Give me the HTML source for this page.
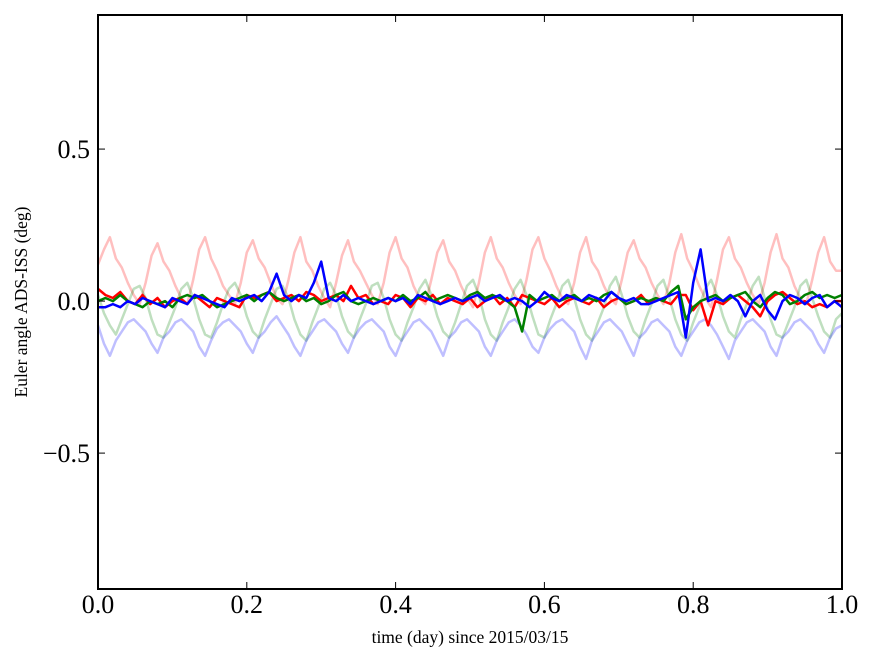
<!DOCTYPE html>
<html><head><meta charset="utf-8"><style>
html,body{margin:0;padding:0;background:#fff;}
svg{display:block;font-family:"Liberation Serif",serif;}
</style></head><body>
<svg id="chart" width="875" height="662" viewBox="0 0 875 662">
<rect x="0" y="0" width="875" height="662" fill="#fff"/>
<g id="plot"></g>
<g id="axes"></g>
<text x="470" y="643" text-anchor="middle" font-size="17.5">time (day) since 2015/03/15</text>
<text transform="translate(27,302) rotate(-90)" text-anchor="middle" font-size="17.5">Euler angle ADS-ISS (deg)</text>
</svg>
<script>
const xTicks=[0,0.2,0.4,0.6,0.8,1.0];
const xTickLabels=["0.0","0.2","0.4","0.6","0.8","1.0"];
const yTicks=[-0.5,0,0.5];
const yTickLabels=["\u22120.5","0.0","0.5"];
// faded series, step 0.008 day
const fadedRed=[0.12,0.17,0.21,0.14,0.11,0.06,0.02,-0.01,
0.06,0.15,0.19,0.13,0.10,0.05,0.01,-0.01,
0.07,0.17,0.21,0.14,0.10,0.05,0.02,-0.01,
0.06,0.16,0.20,0.14,0.11,0.06,0.01,-0.01,
0.07,0.16,0.21,0.13,0.10,0.05,0.01,-0.02,
0.06,0.15,0.20,0.13,0.10,0.06,0.02,-0.01,
0.06,0.16,0.21,0.14,0.11,0.05,0.01,-0.01,
0.07,0.16,0.20,0.13,0.10,0.05,0.01,-0.02,
0.06,0.16,0.21,0.14,0.11,0.06,0.02,-0.01,
0.07,0.17,0.21,0.14,0.10,0.05,0.01,-0.01,
0.06,0.16,0.21,0.13,0.10,0.05,0.01,-0.01,
0.07,0.16,0.20,0.14,0.11,0.06,0.02,-0.01,
0.06,0.16,0.22,0.14,0.10,0.05,0.01,-0.02,
0.07,0.17,0.21,0.14,0.11,0.06,0.02,-0.01,
0.06,0.16,0.22,0.14,0.11,0.05,0.01,-0.01,
0.07,0.16,0.21,0.13,0.10,0.10];
const fadedBlue=[-0.08,-0.14,-0.18,-0.13,-0.10,-0.07,-0.06,-0.08,
-0.10,-0.14,-0.17,-0.12,-0.10,-0.07,-0.06,-0.08,
-0.10,-0.15,-0.18,-0.13,-0.09,-0.07,-0.06,-0.08,
-0.10,-0.14,-0.17,-0.12,-0.10,-0.07,-0.05,-0.08,
-0.11,-0.15,-0.18,-0.13,-0.10,-0.07,-0.06,-0.08,
-0.10,-0.14,-0.17,-0.12,-0.09,-0.07,-0.06,-0.08,
-0.10,-0.15,-0.18,-0.13,-0.10,-0.07,-0.06,-0.08,
-0.10,-0.14,-0.18,-0.12,-0.10,-0.07,-0.06,-0.08,
-0.10,-0.15,-0.18,-0.13,-0.10,-0.07,-0.06,-0.08,
-0.11,-0.15,-0.17,-0.12,-0.09,-0.07,-0.06,-0.08,
-0.10,-0.15,-0.19,-0.13,-0.10,-0.07,-0.06,-0.08,
-0.10,-0.14,-0.18,-0.12,-0.10,-0.07,-0.06,-0.08,
-0.10,-0.15,-0.18,-0.13,-0.10,-0.07,-0.06,-0.08,
-0.11,-0.15,-0.19,-0.13,-0.10,-0.07,-0.06,-0.08,
-0.10,-0.15,-0.18,-0.12,-0.10,-0.07,-0.06,-0.08,
-0.10,-0.14,-0.17,-0.12,-0.09,-0.08];
const fadedGreen=[0.02,-0.04,-0.08,-0.11,-0.06,-0.01,0.04,0.05,
0.01,-0.06,-0.11,-0.12,-0.07,-0.02,0.04,0.06,
0.01,-0.06,-0.11,-0.12,-0.07,-0.01,0.04,0.06,
0.02,-0.05,-0.10,-0.12,-0.06,-0.01,0.04,0.05,
0.01,-0.06,-0.11,-0.13,-0.07,-0.02,0.04,0.06,
0.02,-0.05,-0.10,-0.12,-0.06,-0.01,0.05,0.06,
0.01,-0.06,-0.11,-0.13,-0.07,-0.02,0.04,0.07,
0.02,-0.05,-0.10,-0.12,-0.07,-0.01,0.05,0.07,
0.02,-0.06,-0.11,-0.13,-0.07,-0.02,0.04,0.07,
0.02,-0.05,-0.11,-0.12,-0.06,-0.01,0.05,0.07,
0.01,-0.06,-0.11,-0.13,-0.07,-0.02,0.05,0.08,
0.02,-0.05,-0.10,-0.12,-0.06,-0.01,0.05,0.07,
0.01,-0.06,-0.11,-0.13,-0.07,-0.02,0.04,0.07,
0.02,-0.05,-0.10,-0.12,-0.06,-0.01,0.05,0.08,
0.01,-0.06,-0.11,-0.12,-0.07,-0.02,0.05,0.07,
0.01,-0.05,-0.10,-0.12,-0.06,-0.04];
// main series, step 0.01 day
const mainRed=[0.04,0.02,0.01,0.03,0.0,-0.01,0.02,-0.01,0.01,-0.02,0.0,0.01,-0.01,0.02,0.0,-0.02,0.01,0.0,-0.01,-0.02,0.02,0.01,0.02,0.03,0.0,0.01,0.02,0.0,0.03,0.02,0.0,0.01,0.02,0.0,0.05,0.01,0.02,-0.01,0.0,-0.01,0.02,0.01,-0.02,0.01,0.0,0.02,-0.01,0.01,0.0,-0.01,0.01,-0.02,0.0,0.02,-0.01,0.01,-0.02,0.02,0.01,0.0,-0.01,0.01,-0.02,0.0,0.01,0.0,-0.01,0.01,-0.02,0.0,0.01,-0.01,0.0,0.02,-0.01,0.01,0.0,-0.01,0.02,0.02,-0.03,0.0,-0.08,0.0,-0.01,0.01,0.02,0.0,-0.02,-0.05,0.0,0.02,0.03,0.01,-0.01,0.0,-0.02,-0.01,-0.02,0.0,0.0];
const mainGreen=[0.0,0.01,0.0,0.02,0.0,-0.01,-0.02,0.0,-0.01,0.0,-0.02,0.01,0.02,0.01,0.02,0.0,-0.02,-0.01,0.0,0.01,0.02,0.0,0.02,0.03,0.01,0.0,0.01,0.02,0.0,0.01,-0.01,0.0,0.02,0.03,0.0,-0.01,0.0,0.01,0.0,0.01,0.0,0.02,0.0,0.01,0.03,0.0,0.01,0.02,0.01,0.0,0.02,0.03,0.01,0.02,0.01,0.0,-0.02,-0.1,0.02,0.0,0.01,0.02,0.0,0.01,0.02,0.0,0.01,0.0,0.02,0.03,0.01,-0.01,0.0,0.01,0.0,0.01,0.0,0.03,0.05,-0.06,-0.02,0.0,0.01,0.02,0.0,0.01,0.02,0.03,0.0,-0.02,0.01,0.03,0.02,-0.01,0.0,0.02,0.03,0.01,0.02,0.01,0.02];
const mainBlue=[-0.02,-0.02,-0.01,-0.02,0.0,-0.01,0.01,0.0,-0.01,-0.02,0.01,0.0,-0.01,0.02,0.01,0.0,-0.01,-0.02,0.01,0.0,0.01,0.02,0.0,0.03,0.09,0.02,0.0,0.02,0.01,0.06,0.13,0.01,0.0,0.02,0.0,0.01,0.0,-0.01,0.0,0.01,0.0,0.01,-0.01,0.02,0.01,0.0,-0.01,0.0,0.01,0.0,0.01,0.02,0.0,0.01,0.02,0.0,0.01,0.0,-0.02,0.0,0.03,0.01,0.0,0.02,0.01,0.0,0.02,0.01,0.0,0.03,0.01,0.0,0.01,-0.01,-0.01,0.0,0.01,0.02,0.03,-0.12,0.06,0.17,0.0,0.01,0.0,0.02,0.0,-0.05,0.0,0.02,-0.03,-0.06,0.0,0.02,0.01,-0.01,0.01,0.02,-0.02,0.0,-0.02];

const L=98,R=842,T=15,B=589;
const xMin=0,xMax=1,yMin=-0.947,yMax=0.941;
const sx=v=>L+(v-xMin)/(xMax-xMin)*(R-L);
const sy=v=>B-(v-yMin)/(yMax-yMin)*(B-T);
const NS="http://www.w3.org/2000/svg";
const plot=document.getElementById('plot');
const axes=document.getElementById('axes');

function drawSeries(vals,step,color,opacity,width,name){
  let d="";
  for(let i=0;i<vals.length;i++){
    const t=Math.min(i*step,1);
    d+=(i?"L":"M")+sx(t).toFixed(1)+","+sy(vals[i]).toFixed(1);
  }
  const p=document.createElementNS(NS,'path');
  p.setAttribute('d',d);
  p.setAttribute('fill','none');
  p.setAttribute('stroke',color);
  p.setAttribute('stroke-opacity',opacity);
  p.setAttribute('stroke-width',width);
  p.setAttribute('stroke-linejoin','round');
  
  
  plot.appendChild(p);
}
drawSeries(fadedRed,0.008,'#ff0000',0.25,2.5,'faded-red-series');
drawSeries(fadedGreen,0.008,'#008000',0.25,2.5,'faded-green-series');
drawSeries(fadedBlue,0.008,'#0000ff',0.25,2.5,'faded-blue-series');
drawSeries(mainRed,0.01,'#ff0000',1,2.5,'red-series');
drawSeries(mainGreen,0.01,'#008000',1,2.5,'green-series');
drawSeries(mainBlue,0.01,'#0000ff',1,2.5,'blue-series');

const frame=document.createElementNS(NS,'rect');
frame.setAttribute('x',L);frame.setAttribute('y',T);
frame.setAttribute('width',R-L);frame.setAttribute('height',B-T);
frame.setAttribute('fill','none');frame.setAttribute('stroke','#000');frame.setAttribute('stroke-width','2');


axes.appendChild(frame);

function line(x1,y1,x2,y2,name){
  const l=document.createElementNS(NS,'line');
  l.setAttribute('x1',x1);l.setAttribute('y1',y1);l.setAttribute('x2',x2);l.setAttribute('y2',y2);
  l.setAttribute('stroke','#000');l.setAttribute('stroke-width','1');
  
  
  axes.appendChild(l);
}
function label(x,y,txt,anchor,name){
  const t=document.createElementNS(NS,'text');
  t.setAttribute('x',x);t.setAttribute('y',y);t.setAttribute('text-anchor',anchor);
  t.setAttribute('font-size','26');
  t.textContent=txt;
  
  
  axes.appendChild(t);
}
xTicks.forEach((v,i)=>{
  const x=sx(v);
  line(x,B,x,B-7,'x-tick');
  line(x,T,x,T+7,'x-tick-top');
  label(x,613,xTickLabels[i],'middle','x-tick-label');
});
yTicks.forEach((v,i)=>{
  const y=sy(v);
  line(L,y,L+7,y,'y-tick');
  line(R,y,R-7,y,'y-tick-right');
  label(L-8,y+9,yTickLabels[i],'end','y-tick-label');
});
</script>
</body></html>
